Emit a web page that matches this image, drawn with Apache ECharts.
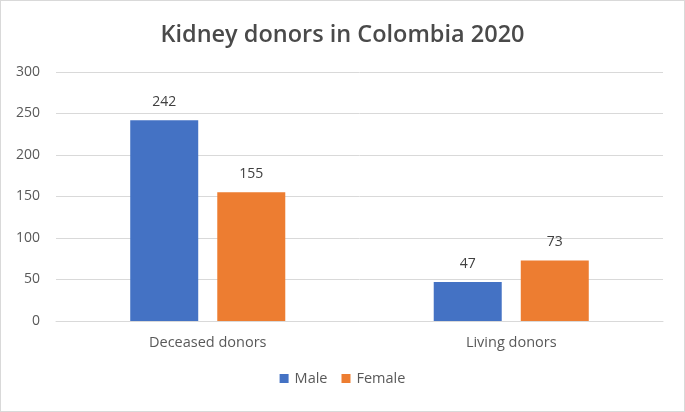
<!DOCTYPE html>
<html>
<head>
<meta charset="utf-8">
<script src="https://cdn.jsdelivr.net/npm/echarts@6/dist/echarts.min.js"></script>
<style>
html,body{margin:0;padding:0;background:#fff;}
#c{width:685px;height:412px;box-sizing:border-box;border:1px solid #d9d9d9;}
</style>
</head>
<body>
<div id="c"></div>
<script>
const categories = ["Deceased donors", "Living donors"];
const maleValues = [242, 47];
const femaleValues = [155, 73];
const yTicks = [0, 50, 100, 150, 200, 250, 300];
const seriesNames = ["Male", "Female"];

const chart = echarts.init(document.getElementById('c'), null, {renderer: 'canvas'});
const font = "'Open Sans', sans-serif";
const labelStyle = {show: true, position: 'top', distance: 11, color: '#404040', fontSize: 14, fontFamily: font};
chart.setOption({
  animation: false,
  title: {
    text: 'Kidney donors in Colombia 2020',
    left: 'center', top: 17,
    textStyle: {fontFamily: font, fontSize: 23.5, fontWeight: 600, color: '#4a4a4a'}
  },
  legend: {
    data: seriesNames,
    bottom: 20, left: 'center',
    itemWidth: 9, itemHeight: 9, itemGap: 14,
    icon: 'rect',
    textStyle: {fontFamily: font, fontSize: 14.5, color: '#595959', padding: [0,0,0,1]}
  },
  grid: {left: 55, right: 21, top: 71, bottom: 90},
  xAxis: {
    type: 'category', data: categories,
    axisLine: {lineStyle: {color: '#d9d9d9'}},
    axisTick: {show: false},
    axisLabel: {color: '#595959', fontSize: 14.5, fontFamily: font, margin: 14}
  },
  yAxis: {
    type: 'value', min: yTicks[0], max: yTicks[yTicks.length-1], interval: 50,
    axisLine: {show: false}, axisTick: {show: false},
    splitLine: {lineStyle: {color: '#d9d9d9'}},
    axisLabel: {color: '#595959', fontSize: 14, fontFamily: font, margin: 16}
  },
  series: [
    {name: seriesNames[0], type: 'bar', data: maleValues, barWidth: 68, barGap: '28%',
     itemStyle: {color: '#4472C4'}, label: labelStyle},
    {name: seriesNames[1], type: 'bar', data: femaleValues, barWidth: 68,
     itemStyle: {color: '#ED7D31'}, label: labelStyle}
  ]
});
</script>
</body>
</html>
